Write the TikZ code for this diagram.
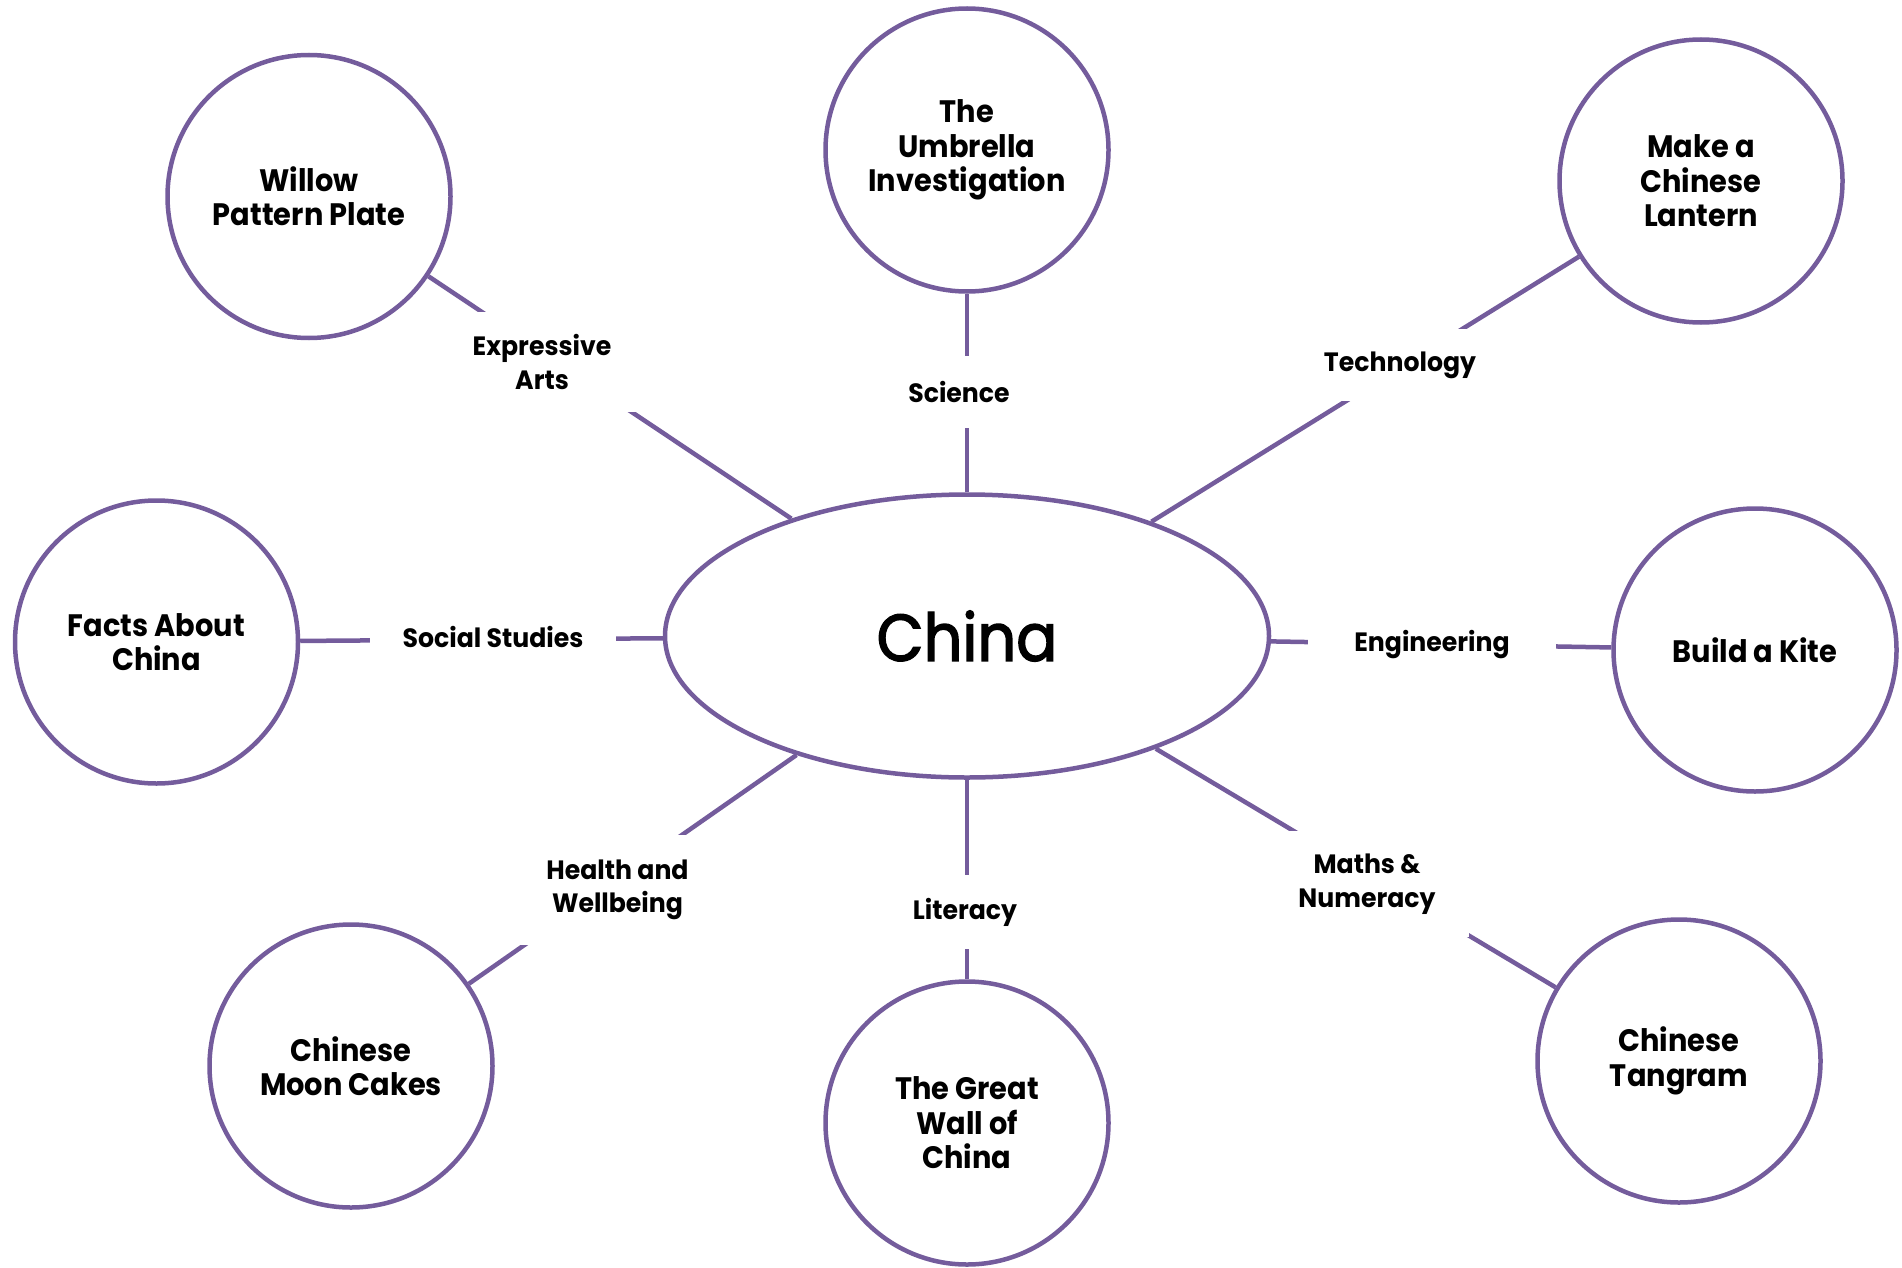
\documentclass[tikz,border=0pt]{standalone}
\usepackage{fontspec}
\setmainfont{Poppins}
\newfontfamily\hubfont[FakeStretch=0.92, FakeBold=2.2]{Poppins}
\newfontfamily\topicfont[FakeStretch=0.93]{Poppins}
\newfontfamily\subjectfont[FakeStretch=0.95]{Poppins}
\usetikzlibrary{shapes.geometric}
\definecolor{plum}{RGB}{116,92,156}

\tikzset{
  link/.style={draw=plum, line width=4.5pt},
  topic/.style={circle, draw=plum, line width=4.5pt, fill=white,
    minimum size=283pt, inner sep=0pt, align=center,
    font=\topicfont\bfseries\fontsize{31}{34.4}\selectfont},
  hub/.style={ellipse, draw=plum, line width=4.5pt, fill=white,
    minimum width=604pt, minimum height=283pt, inner sep=0pt,
    font=\hubfont\fontsize{66}{70}\selectfont},
  subject/.style={fill=white, align=center, inner xsep=33pt, inner ysep=23pt,
    font=\subjectfont\bfseries\fontsize{26.5}{33.5}\selectfont},
}

\begin{document}
\begin{tikzpicture}[x=1pt,y=-1pt]
  \useasboundingbox (0,0) rectangle (1902,1268);

  % centre of the web
  \node[hub] (china) at (967,636) {China};

  % activities round the edge
  \node[topic] (willow)   at (309,196.5) {Willow\\Pattern Plate};
  \node[topic] (umbrella) at (967,150)   {The\\Umbrella\\Investigation};
  \node[topic] (lantern)  at (1701,181)  {Make a\\Chinese\\Lantern};
  \node[topic] (facts)    at (156.5,642) {Facts About\\China};
  \node[topic] (kite)     at (1755,650)  {Build a Kite};
  \node[topic] (moon)     at (351,1066)  {Chinese\\Moon Cakes};
  \node[topic] (wall)     at (967,1123)  {The Great\\Wall of\\China};
  \node[topic] (tangram)  at (1679,1061) {Chinese\\Tangram};

  % spokes
  \draw[link] (china) -- (willow);
  \draw[link] (china) -- (umbrella);
  \draw[link] (china) -- (lantern);
  \draw[link] (china) -- (facts);
  \draw[link] (china) -- (kite);
  \draw[link] (china) -- (moon);
  \draw[link] (china) -- (wall);
  \draw[link] (china) -- (tangram);

  % curriculum areas sitting on the spokes
  \node[subject] (expressive) at (542,362)   {Expressive\\Arts};
  \node[subject, inner ysep=25pt] (science) at (959,392) {Science};
  \node[subject] (technology) at (1400,365)  {Technology};
  \node[subject] (social)     at (493,637)   {Social Studies};
  \node[subject, inner xsep=46pt] (engineering) at (1432,645) {Engineering};
  \node[subject, inner ysep=25pt] (health) at (617.5,890) {Health and\\Wellbeing};
  \node[subject] (literacy)   at (965,912)   {Literacy};
  \node[subject] (maths)      at (1367,884)  {Maths \&\\Numeracy};
\end{tikzpicture}
\end{document}
